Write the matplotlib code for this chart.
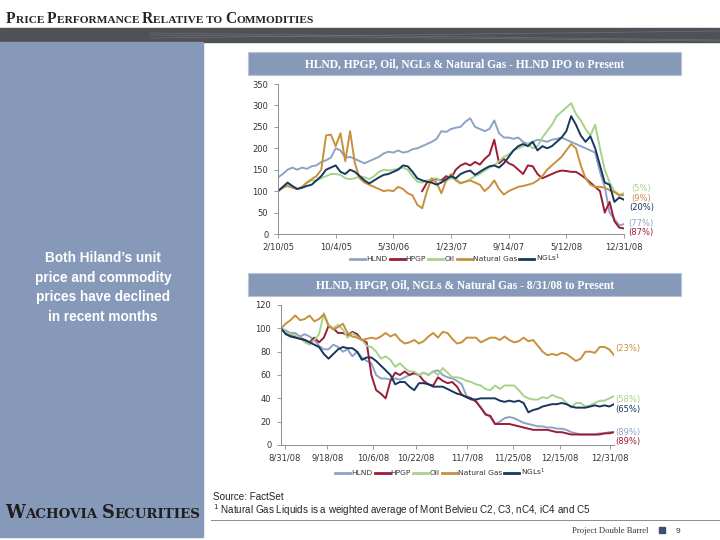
import matplotlib
matplotlib.use("Agg")
import matplotlib.pyplot as plt
from matplotlib.patches import Rectangle
from matplotlib.lines import Line2D
import numpy as np

# ---- data: HLND IPO to present (indexed to 100) ----
ipo_labels = ["2/10/05", "10/4/05", "5/30/06", "1/23/07", "9/14/07", "5/12/08", "12/31/08"]
ipo_hlnd = [132, 140, 150, 155, 150, 155, 152, 158, 160, 168,
            172, 178, 200, 195, 178, 180, 175, 170, 165, 170,
            175, 180, 188, 192, 190, 195, 190, 192, 198, 200,
            205, 210, 215, 222, 240, 238, 245, 248, 250, 262,
            270, 250, 245, 240, 245, 265, 235, 225, 225, 222,
            225, 215, 210, 215, 220, 218, 215, 220, 222, 225,
            220, 215, 210, 205, 200, 195, 190, 145, 110, 50,
            35, 20, 23]
ipo_hpgp = [None] * 30 + [
            100, 120, 125, 128, 125, 135, 130, 150, 160, 165,
            160, 168, 162, 175, 185, 220, 165, 175, 165, 160,
            150, 140, 160, 158, 140, 130, 135, 140, 145, 148,
            147, 145, 145, 138, 130, 120, 110, 100, 50, 75,
            30, 15, 13]
ipo_oil = [100, 108, 115, 110, 105, 108, 120, 125, 125, 130,
           135, 140, 140, 138, 130, 128, 130, 135, 132, 128,
           135, 145, 150, 148, 150, 152, 155, 150, 135, 122,
           120, 125, 128, 130, 122, 125, 130, 128, 120, 122,
           128, 135, 140, 148, 155, 160, 170, 180, 185, 195,
           200, 205, 210, 200, 205, 225, 240, 255, 275, 285,
           295, 305, 280, 265, 245, 230, 255, 200, 150, 120,
           100, 92, 95]
ipo_gas = [100, 108, 112, 108, 105, 110, 120, 128, 135, 150,
           230, 232, 205, 235, 170, 240, 165, 130, 120, 115,
           110, 105, 100, 102, 100, 110, 105, 95, 90, 68,
           60, 100, 130, 120, 95, 125, 140, 125, 118, 122,
           125, 120, 115, 100, 110, 125, 105, 92, 100, 105,
           110, 112, 115, 118, 125, 135, 150, 160, 170, 180,
           195, 210, 200, 160, 130, 115, 110, 110, 108, 102,
           98, 90, 91]
ipo_ngl = [100, 110, 120, 112, 105, 108, 112, 115, 125, 135,
           150, 155, 160, 145, 140, 150, 145, 135, 125, 118,
           125, 132, 138, 140, 145, 150, 160, 158, 145, 130,
           125, 122, 120, 115, 120, 128, 135, 130, 140, 145,
           148, 138, 145, 152, 158, 160, 155, 165, 180, 195,
           205, 210, 205, 215, 195, 205, 200, 205, 215, 225,
           240, 275, 255, 230, 215, 228, 200, 160, 120, 115,
           75, 85, 80]
ipo_end_labels = ["(5%)", "(9%)", "(20%)", "(77%)", "(87%)"]
ipo_end_levels = [105, 83, 61, 25, 3]

# ---- data: 8/31/08 to present ----
rec_labels = ["8/31/08", "9/18/08", "10/6/08", "10/22/08", "11/7/08", "11/25/08", "12/15/08", "12/31/08"]
rec_hlnd = [100, 98, 96, 96, 93, 95, 93, 90, 85, 82,
            82, 86, 84, 80, 82, 76, 80, 75, 72, 70,
            60, 57, 57, 56, 57, 56, 58, 60, 61, 60,
            62, 60, 63, 64, 60, 58, 57, 55, 52, 42,
            40, 38, 32, 27, 24, 18, 20, 23, 24, 23,
            21, 19, 18, 17, 16, 16, 15, 15, 14, 14,
            13, 11, 10, 9, 9, 9, 9, 10, 10, 11, 11]
rec_hpgp = [100, 96, 94, 93, 92, 90, 88, 92, 88, 92,
            102, 100, 96, 96, 94, 97, 95, 90, 88, 60,
            47, 44, 40, 55, 62, 60, 63, 60, 62, 60,
            55, 52, 51, 58, 55, 53, 54, 50, 43, 41,
            40, 37, 32, 26, 25, 18, 18, 18, 18, 17,
            16, 15, 14, 13, 13, 13, 13, 12, 11, 11,
            10, 9, 9, 9, 9, 9, 9, 9, 10, 10, 11]
rec_oil = [100, 97, 95, 94, 92, 88, 86, 90, 95, 113,
           103, 100, 103, 99, 92, 96, 93, 90, 85, 84,
           80, 74, 76, 73, 67, 70, 66, 63, 63, 60,
           62, 60, 63, 60, 66, 62, 58, 58, 57, 55,
           54, 52, 51, 48, 47, 51, 48, 51, 51, 51,
           47, 42, 40, 39, 39, 41, 40, 43, 41, 40,
           36, 32, 36, 36, 33, 34, 36, 38, 38, 40, 42]
rec_gas = [100, 104, 107, 111, 107, 108, 111, 106, 108, 112,
           102, 99, 101, 104, 96, 93, 92, 90, 91, 92,
           91, 93, 96, 93, 95, 90, 87, 88, 90, 87,
           89, 93, 96, 92, 97, 96, 91, 87, 88, 92,
           92, 92, 88, 90, 92, 92, 90, 93, 90, 88,
           89, 92, 89, 90, 85, 80, 77, 78, 77, 79,
           78, 75, 72, 74, 80, 80, 79, 84, 84, 82, 77]
rec_ngl = [100, 95, 93, 92, 91, 90, 88, 86, 84, 78,
           74, 78, 82, 84, 83, 83, 80, 73, 75, 75,
           72, 68, 64, 60, 52, 54, 54, 50, 47, 53,
           53, 52, 50, 50, 50, 48, 46, 44, 43, 41,
           39, 39, 40, 40, 40, 40, 38, 37, 38, 37,
           38, 36, 28, 30, 31, 33, 34, 35, 35, 36,
           35, 33, 32, 32, 32, 33, 34, 33, 34, 33, 35]
rec_end_labels = ["(23%)", "(58%)", "(65%)", "(89%)", "(89%)"]
rec_end_levels = [83, 39, 30.5, 10.5, 2.8]

names = ["HLND", "HPGP", "Oil", "Natural Gas", "NGLs$^{1}$"]
colors = ["#8EA2C6", "#9C1C35", "#A6D38C", "#C8903A", "#17375E"]

W, H = 720, 540
BLUE = "#8799B9"


def fx(x):
    return x / W


def fy(y):
    return 1 - y / H


fig = plt.figure(figsize=(7.2, 5.4), dpi=100)
renderer = fig.canvas.get_renderer()


def small_caps(x, y, words, big, small, color, family="Liberation Serif"):
    # fake small caps: big first letter, smaller upper-case rest
    for s in words:
        t = fig.text(fx(x), fy(y), s[0], fontsize=big, fontweight="bold",
                     family=family, color=color, va="baseline")
        x += t.get_window_extent(renderer).width
        t = fig.text(fx(x), fy(y), s[1:].upper(), fontsize=small, fontweight="bold",
                     family=family, color=color, va="baseline")
        x += t.get_window_extent(renderer).width


# header
small_caps(6, 23, ["Price ", "Performance ", "Relative to ", "Commodities"], 11.2, 8.2, "#262626")
fig.patches.append(Rectangle((0, fy(42)), 1, (42 - 28) / H, transform=fig.transFigure,
                             color="#505156", zorder=0))
for y0, y1 in [(33, 40), (38, 31), (35, 41)]:
    fig.add_artist(Line2D([fx(150), fx(720)], [fy(y0), fy(y1)], color="#7a8494", lw=0.5, alpha=0.6))

# left panel
fig.patches.append(Rectangle((0, fy(537)), fx(203), (537 - 42) / H, transform=fig.transFigure,
                             color=BLUE, zorder=0))
fig.text(fx(103), fy(287.5), "Both Hiland\u2019s unit\nprice and commodity\nprices have declined\nin recent months",
         ha="center", va="center", color="white", fontsize=9.8, fontweight="bold",
         family="Liberation Sans", linespacing=1.5)
small_caps(5, 518, ["Wachovia ", "Securities"], 12.8, 9.6, "#1e1e1e", family="DejaVu Serif")


def chart(rect, title_y, title, series, labels, ticks, ymax, ystep,
          end_labels, end_levels, end_cols, end_dx, leg_xy):
    fig.patches.append(Rectangle((fx(248), fy(title_y + 11)), fx(681) - fx(248), 23 / H,
                                 transform=fig.transFigure, facecolor=BLUE,
                                 edgecolor="#b9c4d8", lw=0.8, zorder=0))
    fig.text(fx(465), fy(title_y), title, ha="center", va="center", color="white",
             fontsize=8.3, fontweight="bold", family="Liberation Serif")
    ax = fig.add_axes(rect)
    n = len(series[0])
    x = np.arange(n)
    handles = []
    for vals, c in zip(series, colors):
        ax.plot(x, np.array(vals, dtype=float), color=c, lw=1.4)
        handles.append(Line2D([], [], color=c, lw=2))
    ax.set_xlim(0, n - 1)
    ax.set_ylim(0, ymax)
    ax.set_yticks(np.arange(0, ymax + 1, ystep))
    ax.set_xticks(ticks)
    ax.set_xticklabels(labels)
    for s in ["top", "right"]:
        ax.spines[s].set_visible(False)
    for s in ["left", "bottom"]:
        ax.spines[s].set_color("#8c8c8c")
        ax.spines[s].set_linewidth(0.7)
    ax.tick_params(labelsize=6, labelcolor="#333333", color="#8c8c8c", length=3, width=0.6)
    ax.tick_params(axis="y", pad=4)
    ax.tick_params(axis="x", pad=3)
    for lab, lev, c in zip(end_labels, end_levels, end_cols):
        ax.text(n - 1 + end_dx, lev, lab, color=c, fontsize=6, ha="center", va="center", clip_on=False)
    fig.legend(handles, names, loc="center", bbox_to_anchor=(fx(leg_xy[0]), fy(leg_xy[1])),
               ncol=5, frameon=False, fontsize=5.4, handlelength=2.0, handletextpad=0.15,
               columnspacing=0.3, borderpad=0, labelcolor="#333333")
    return ax


chart([fx(278), fy(234), fx(624) - fx(278), (234 - 84) / H], 64,
      "HLND, HPGP, Oil, NGLs & Natural Gas - HLND IPO to Present",
      [ipo_hlnd, ipo_hpgp, ipo_oil, ipo_gas, ipo_ngl], ipo_labels,
      np.linspace(0, len(ipo_hlnd) - 1, 7), 350, 50, ipo_end_labels, ipo_end_levels,
      [colors[2], colors[3], colors[4], colors[0], colors[1]], 3.6, (455, 258))
chart([fx(281), fy(445), fx(614) - fx(281), (445 - 305) / H], 285,
      "HLND, HPGP, Oil, NGLs & Natural Gas - 8/31/08 to Present",
      [rec_hlnd, rec_hpgp, rec_oil, rec_gas, rec_ngl], rec_labels,
      [0.8, 9.7, 19.3, 28.4, 39.1, 48.8, 58.7, 69.2], 120, 20, rec_end_labels, rec_end_levels,
      [colors[3], colors[2], colors[4], colors[0], colors[1]], 2.9, (440, 472))

# footer
foot = "Liberation Sans"
fig.text(fx(213), fy(500), "Source: FactSet", fontsize=7.1, family=foot, color="#222222", va="baseline")
fig.text(fx(213), fy(514), "$^{1}$ Natural Gas Liquids is a weighted average of Mont Belvieu C2, C3, nC4, iC4 and C5",
         fontsize=7.1, family=foot, color="#222222", va="baseline")
fig.add_artist(Line2D([fx(211), 1], [fy(520), fy(520)], color="#8c8c8c", lw=0.7))
fig.text(fx(648), fy(533), "Project Double Barrel", fontsize=6.2, family="Liberation Serif",
         color="#333333", ha="right", va="baseline")
fig.patches.append(Rectangle((fx(659), fy(533)), 6 / W, 6 / H, transform=fig.transFigure,
                             color="#3b4f73"))
fig.text(fx(678), fy(533), "9", fontsize=6, family="Liberation Sans", color="#333333",
         ha="center", va="baseline")

fig.savefig("out.png", dpi=100)
